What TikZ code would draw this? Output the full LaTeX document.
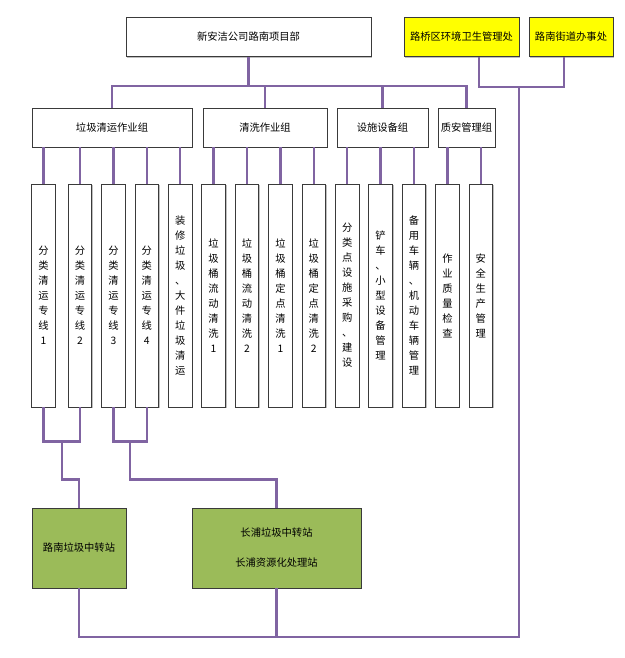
\documentclass[tikz,border=0pt]{standalone}
\usepackage{fontspec}
\newfontfamily\cjk{Noto Sans CJK SC}
\usetikzlibrary{calc,shadows}
\definecolor{lp}{HTML}{8064A2}
\definecolor{gf}{HTML}{9BBB59}
\definecolor{yf}{HTML}{FFFF00}
\definecolor{bd}{HTML}{3A3A3A}
\begin{document}
\begin{tikzpicture}[x=1pt,y=-1pt,
  box/.style={draw=bd, line width=0.8pt, fill=white, inner sep=0pt, font=\cjk\fontsize{10.3}{12}\selectfont,
    drop shadow={shadow xshift=1.2pt, shadow yshift=-1.2pt, fill=black, opacity=0.25}},
  hbox/.style={box, minimum height=39pt},
  tall/.style={box, minimum width=23.5pt, minimum height=223pt, align=center, font=\cjk\fontsize{10.3}{15}\selectfont},
  green/.style={box, fill=gf, minimum height=80pt, align=center},
  conn/.style={draw=lp, line width=2.5pt}]
\useasboundingbox (0,0) rectangle (624,658);

% top row
\node[hbox, minimum width=245pt] (top) at (248.5,37) {新安洁公司路南项目部};
\node[hbox, fill=yf, minimum width=115pt] (y1) at (461.5,37) {路桥区环境卫生管理处};
\node[hbox, fill=yf, minimum width=84pt] (y2) at (571,37) {路南街道办事处};

% groups
\node[hbox, minimum width=160pt] (g1) at (112,127.5) {垃圾清运作业组};
\node[hbox, minimum width=124pt] (g2) at (265,127.5) {清洗作业组};
\node[hbox, minimum width=91pt] (g3) at (382.5,127.5) {设施设备组};
\node[hbox, minimum width=57pt] (g4) at (466.5,127.5) {质安管理组};

% tall boxes
\node[tall] (t1) at (43.5,295.5) {分\\类\\清\\运\\专\\线\\1};
\node[tall] (t2) at (80,295.5) {分\\类\\清\\运\\专\\线\\2};
\node[tall] (t3) at (113.4,295.5) {分\\类\\清\\运\\专\\线\\3};
\node[tall] (t4) at (146.8,295.5) {分\\类\\清\\运\\专\\线\\4};
\node[tall] (t5) at (180.2,295.5) {装\\修\\垃\\圾\\、\\大\\件\\垃\\圾\\清\\运};
\node[tall] (t6) at (213.6,295.5) {垃\\圾\\桶\\流\\动\\清\\洗\\1};
\node[tall] (t7) at (247,295.5) {垃\\圾\\桶\\流\\动\\清\\洗\\2};
\node[tall] (t8) at (280.4,295.5) {垃\\圾\\桶\\定\\点\\清\\洗\\1};
\node[tall] (t9) at (313.8,295.5) {垃\\圾\\桶\\定\\点\\清\\洗\\2};
\node[tall] (t10) at (347.2,295.5) {分\\类\\点\\设\\施\\采\\购\\、\\建\\设};
\node[tall] (t11) at (380.6,295.5) {铲\\车\\、\\小\\型\\设\\备\\管\\理};
\node[tall] (t12) at (414,295.5) {备\\用\\车\\辆\\、\\机\\动\\车\\辆\\管\\理};
\node[tall] (t13) at (447.4,295.5) {作\\业\\质\\量\\检\\查};
\node[tall] (t14) at (480.8,295.5) {安\\全\\生\\产\\管\\理};

% green stations
\node[green, minimum width=94pt] (s1) at (79,548) {路南垃圾中转站};
\node[green, minimum width=169pt, font=\cjk\fontsize{10.3}{30}\selectfont] (s2) at (276.5,548) {长浦垃圾中转站\\长浦资源化处理站};

% connectors: top tree
\coordinate (tb) at (248.5,86);
\draw[conn] (top.south) -- (tb);
\draw[conn] (g1.north) |- (tb) -| (g4.north);
\draw[conn] (g2.north) -- (g2.north |- tb);
\draw[conn] (g3.north) -- (g3.north |- tb);

% groups to tall boxes
\foreach \g/\t in {g1/t1,g1/t2,g1/t3,g1/t4,g1/t5,g2/t6,g2/t7,g2/t8,g2/t9,g3/t10,g3/t11,g3/t12,g4/t13,g4/t14}
  \draw[conn] (\t.north) -- (\t.north |- \g.south);

% yellow offices
\coordinate (yb) at (519,87);
\draw[conn] ([xshift=17.5pt]y1.south) |- (yb) -| ([xshift=-7pt]y2.south);

% lines to stations
\coordinate (u1) at ($(t1.south)!0.5!(t2.south)+(0,34)$);
\coordinate (u2) at ($(t3.south)!0.5!(t4.south)+(0,34)$);
\draw[conn] (t1.south) |- (u1) -| (t2.south);
\draw[conn] (t3.south) |- (u2) -| (t4.south);
\draw[conn] (u1) -- ++(0,38) -| (s1.north);
\draw[conn] (u2) -- ++(0,38) -| (s2.north);

% bottom return line
\coordinate (bot) at (519,637);
\draw[conn] (s1.south) |- (bot) -- (yb);
\draw[conn] (s2.south) -- (s2.south |- bot);
\end{tikzpicture}
\end{document}
